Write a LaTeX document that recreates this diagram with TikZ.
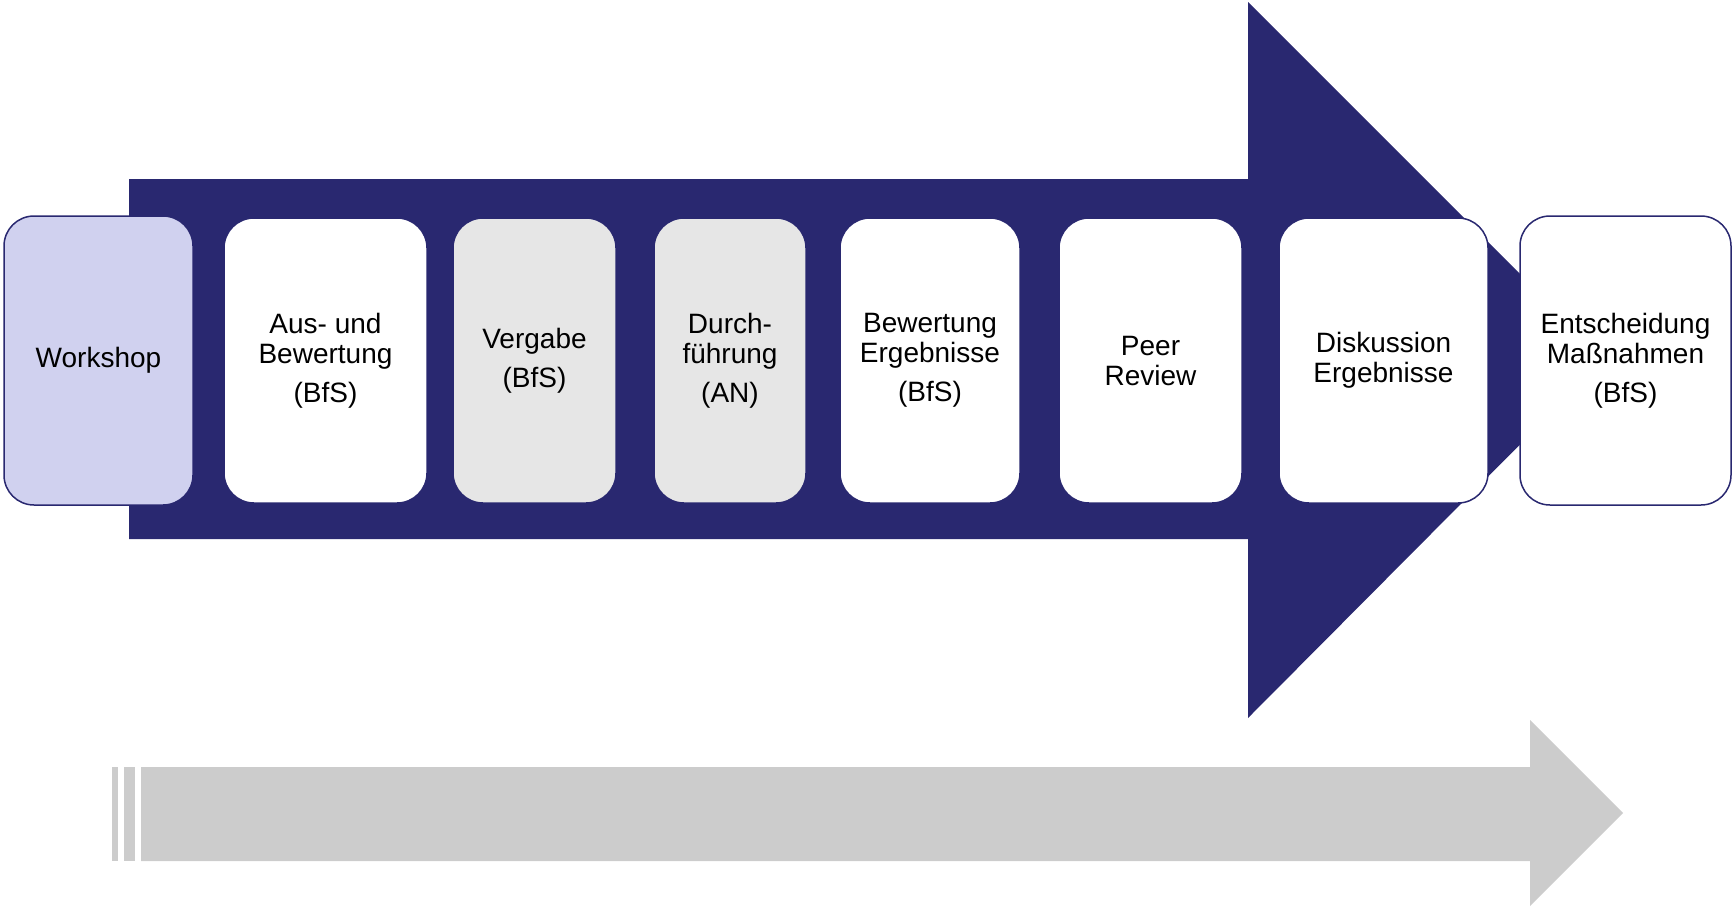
\documentclass[tikz,border=0pt]{standalone}
\usepackage{fontspec}
\setmainfont{Liberation Sans}
\definecolor{navy}{HTML}{292870}
\definecolor{lav}{HTML}{D0D1EF}
\definecolor{boxgray}{HTML}{E6E6E6}
\definecolor{arrowgray}{HTML}{CCCCCC}
\begin{document}
\begin{tikzpicture}[x=1pt,y=-1pt,
  stage/.style={draw=navy, line width=1.5pt, rounded corners=30pt, align=center,
    minimum height=285pt, inner sep=0pt, font=\fontsize{28}{30}\selectfont},
  white stage/.style={stage, fill=white},
  gray stage/.style={stage, fill=boxgray},
]
\useasboundingbox (0,0) rectangle (1733,906);
% big navy arrow
\fill[navy] (129,179) -- (1248,179) -- (1248,2) -- (1605,359) -- (1248,718)
  -- (1248,539) -- (129,539) -- cycle;
% gray timeline arrow
\fill[arrowgray] (141,767) -- (1530,767) -- (1530,720) -- (1623,813)
  -- (1530,906) -- (1530,861) -- (141,861) -- cycle;
\fill[arrowgray] (112,767) rectangle (118,861);
\fill[arrowgray] (124,767) rectangle (135,861);
% stages
\node[stage, fill=lav, minimum width=189pt, minimum height=289pt] (workshop) at (98.5,360.5) {Workshop};
\node[white stage, minimum width=203pt] (aus) at (325.5,360.5) {Aus- und\\Bewertung\\[9pt](BfS)};
\node[gray stage, minimum width=163pt] (vergabe) at (534.5,360.5) {Vergabe\\[9pt](BfS)};
\node[gray stage, minimum width=152pt] (durch) at (730,360.5) {Durch-\\führung\\[9pt](AN)};
\node[white stage, minimum width=180pt] (bewertung) at (930,360.5) {Bewertung\\Ergebnisse\\[9pt](BfS)};
\node[white stage, minimum width=183pt] (peer) at (1150.5,360.5) {Peer\\Review};
\node[white stage, minimum width=209pt] (diskussion) at (1383.5,360.5) {Diskussion\\Ergebnisse};
\node[white stage, minimum width=211pt, minimum height=289pt] (entscheidung) at (1625.5,360.5) {Entscheidung\\Maßnahmen\\[9pt](BfS)};
\end{tikzpicture}
\end{document}
